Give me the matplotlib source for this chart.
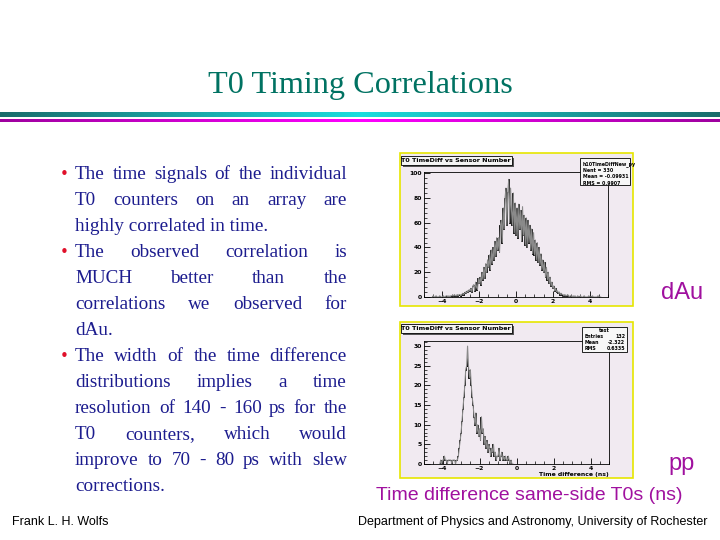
import numpy as np
import matplotlib
matplotlib.use("Agg")
import matplotlib.pyplot as plt
from matplotlib.patches import Rectangle

W, H = 720, 540

# --- data -------------------------------------------------------------
title = "T0 Timing Correlations"

bullets = [
    ["The time signals of the individual",
     "T0 counters on an array are",
     "highly correlated in time."],
    ["The observed correlation is",
     "MUCH better than the",
     "correlations we observed for",
     "dAu."],
    ["The width of the time difference",
     "distributions implies a time",
     "resolution of 140 - 160 ps for the",
     "T0 counters, which would",
     "improve to 70 - 80 ps with slew",
     "corrections."],
]

# dAu histogram, 0.05 ns bins from -4.6 to 4.6
dau_lo, dau_hi = -4.6, 4.6
dau_counts = [
    0, 1, 0, 0, 1, 0, 0, 0, 1, 0, 0, 0,
    1, 0, 0, 1, 1, 0, 1, 0, 1, 1,
    1, 1, 2, 1, 1, 2, 1, 2, 2, 1,
    2, 3, 2, 3, 4, 3, 5, 4, 6, 5,
    7, 4, 9, 10, 5, 12, 8, 6, 15, 11,
    16, 10, 20, 14, 24, 15, 27, 20, 30, 24,
    34, 22, 38, 27, 40, 30, 45, 33, 48, 38,
    48, 36, 58, 62, 44, 72, 55, 80, 88, 58,
    85, 95, 60, 88, 70, 58, 84, 52, 76, 50,
    72, 48, 75, 55, 70, 45, 73, 50, 66, 42,
    64, 40, 62, 44, 58, 38, 55, 35, 52, 34,
    46, 30, 44, 28, 40, 26, 35, 22, 30, 20,
    28, 16, 24, 14, 20, 11, 16, 9, 12, 7,
    9, 5, 7, 4, 5, 3, 4, 2, 3, 2,
    2, 1, 2, 1, 1, 2, 1, 0, 1, 1,
    0, 1, 0, 1, 0, 0, 1, 0, 0, 1, 0, 0, 0, 1, 0, 0,
    0, 0, 1, 0, 0, 0, 1, 0, 0, 0, 0, 0, 1, 0, 0, 0,
]
dau_stats = ["h10TimeDiffNew_py", "Nent = 330", "Mean = -0.09931", "RMS = 0.9907"]

# pp histogram, 0.05 ns bins from -4.2 to -0.2
pp_lo, pp_hi = -4.2, -0.2
pp_counts = [
    0, 1, 0, 1, 1, 2, 1, 1, 0, 1,
    1, 1, 1, 0, 1, 1, 1, 0, 1, 1,
    2, 4, 6, 8, 11, 14, 17, 20, 24, 25,
    30, 25, 22, 24, 20, 17, 15, 12, 10, 13,
    8, 10, 7, 9, 6, 12, 8, 9, 5, 7,
    4, 6, 3, 5, 4, 2, 4, 3, 5, 2,
    3, 1, 2, 2, 4, 1, 2, 3, 1, 2,
    1, 2, 1, 1, 2, 1, 0, 1, 0, 0,
]
pp_stats = [("Entries", "132"), ("Mean", "-2.322"), ("RMS", "0.6335")]

hist_title = "T0 TimeDiff vs Sensor Number"

# --- figure -------------------------------------------------------------
fig = plt.figure(figsize=(7.2, 5.4), dpi=100)
fig.patch.set_facecolor("white")


def fx(x):
    return x / W


def fy(y):
    return 1 - y / H


def box(x0, y0, x1, y1, **kw):
    fig.patches.append(Rectangle((fx(x0), fy(y1)), (x1 - x0) / W, (y1 - y0) / H,
                                 transform=fig.transFigure, figure=fig, **kw))


# title
fig.text(fx(360), fy(85), title, ha="center", va="center",
         family="Liberation Serif", fontsize=23.2, color="#007262")

# header bars
grad = np.abs(np.linspace(-1, 1, 400))
ax_bar = fig.add_axes([0, fy(117.5), 1, 5.5 / H])
teal = np.array([[0.10, 0.42, 0.42]]) + np.outer(1 - grad, [0.0, 0.45, 0.45])
ax_bar.imshow(teal[None, :, :], aspect="auto")
ax_bar.axis("off")
ax_bar2 = fig.add_axes([0, fy(122), 1, 3 / H])
mag = np.array([[0.62, 0.0, 0.62]]) + np.outer(1 - grad, [0.38, 0.0, 0.38])
ax_bar2.imshow(mag[None, :, :], aspect="auto")
ax_bar2.axis("off")

# justified bullet text
renderer = fig.canvas.get_renderer()
txt_kw = dict(family="Liberation Serif", fontsize=13.8, color="#1c1c8e", va="baseline")
left, right = 75, 347
y = 179
for para in bullets:
    fig.text(fx(60), fy(y), "\u2022", color="#e0102a", fontsize=11,
             family="DejaVu Sans", va="baseline")
    for k, line in enumerate(para):
        words = line.split(" ")
        last = k == len(para) - 1
        if last or len(words) == 1:
            fig.text(fx(left), fy(y), line, **txt_kw)
        else:
            objs = [fig.text(0, 0, w, **txt_kw) for w in words]
            widths = [o.get_window_extent(renderer).width for o in objs]
            gap = (right - left - sum(widths)) / (len(words) - 1)
            xx = left
            for o, w in zip(objs, widths):
                o.set_position((fx(xx), fy(y)))
                xx += w + gap
        y += 26

# histogram panels
bg = "#f1eaf1"


def panel(frame, plot, counts, lo, hi, ymax, yticks):
    x0, y0, x1, y1 = frame
    box(x0, y0, x1, y1, facecolor=bg, edgecolor="#e6e600", lw=1.2, zorder=-5)
    px0, py0, px1, py1 = plot
    ax = fig.add_axes([fx(px0), fy(py1), (px1 - px0) / W, (py1 - py0) / H])
    ax.set_facecolor(bg)
    edges = np.linspace(lo, hi, len(counts) + 1)
    centers = 0.5 * (edges[:-1] + edges[1:])
    ax.plot(centers + 0.03, counts, color="#8a8a8a", lw=0.8)
    ax.stairs(counts, edges, color="black", lw=0.7)
    ax.set_xlim(-5, 5)
    ax.set_ylim(0, ymax)
    ax.set_xticks([-4, -2, 0, 2, 4])
    ax.set_xticks(np.arange(-5, 5.01, 0.5), minor=True)
    ax.set_yticks(yticks)
    ax.set_yticks(np.arange(0, ymax, yticks[1] / 5), minor=True)
    ax.tick_params(direction="in", labelsize=4.4, length=4, width=0.6, pad=1.5)
    ax.tick_params(which="minor", direction="in", length=2, width=0.5)
    for lab in ax.get_xticklabels() + ax.get_yticklabels():
        lab.set_fontweight("bold")
    for s in ax.spines.values():
        s.set_linewidth(0.6)
    return ax


panel((400, 153, 633, 306), (424, 172, 608, 297), dau_counts, dau_lo, dau_hi,
      101, [0, 20, 40, 60, 80, 100])
ax2 = panel((400, 322, 633, 478), (424, 341, 609, 464), pp_counts, pp_lo, pp_hi,
            31.3, [0, 5, 10, 15, 20, 25, 30])
fig.text(fx(609), fy(476), "Time difference (ns)", ha="right", va="baseline",
         fontsize=4.4, family="DejaVu Sans", weight="bold")

# title boxes
for ty in (156, 324):
    box(403, ty + 2, 514, ty + 11, facecolor="#555555", edgecolor="none", zorder=2)
    box(401, ty, 512, ty + 9, facecolor="#f4f4f4", edgecolor="black", lw=0.6, zorder=3)
    fig.text(fx(456), fy(ty + 4.7), hist_title, ha="center", va="center",
             fontsize=4.6, family="DejaVu Sans", weight="bold", zorder=4)

# stats boxes
box(580, 158, 630, 185, facecolor="#f7f7f7", edgecolor="black", lw=0.6, zorder=3)
for i, s in enumerate(dau_stats):
    fig.text(fx(583), fy(164 + 6.5 * i), s, va="center", fontsize=3.4,
             family="DejaVu Sans", weight="bold", zorder=4)
box(582, 327, 627, 352, facecolor="#f7f7f7", edgecolor="black", lw=0.6, zorder=3)
fig.text(fx(604.5), fy(330.5), "test", ha="center", va="center", fontsize=3.4,
         family="DejaVu Sans", weight="bold", zorder=4)
for i, (k, v) in enumerate(pp_stats):
    fig.text(fx(585), fy(336.5 + 6 * i), k, va="center", fontsize=3.4,
             family="DejaVu Sans", weight="bold", zorder=4)
    fig.text(fx(625), fy(336.5 + 6 * i), v, va="center", ha="right", fontsize=3.4,
             family="DejaVu Sans", weight="bold", zorder=4)

# side labels
mag_col = "#a0109f"
fig.text(fx(682), fy(293), "dAu", ha="center", va="center", fontsize=17,
         family="Liberation Sans", color=mag_col)
fig.text(fx(682), fy(464), "pp", ha="center", va="center", fontsize=17,
         family="Liberation Sans", color=mag_col)
fig.text(fx(529), fy(495), "Time difference same-side T0s (ns)", ha="center",
         va="center", fontsize=14, family="Liberation Sans", color=mag_col)

# footer
fig.text(fx(12), fy(522), "Frank L. H. Wolfs", va="center", fontsize=9,
         family="Liberation Sans")
fig.text(fx(707), fy(522), "Department of Physics and Astronomy, University of Rochester",
         ha="right", va="center", fontsize=9, family="Liberation Sans")

fig.savefig("out.png", dpi=100, facecolor="white")
